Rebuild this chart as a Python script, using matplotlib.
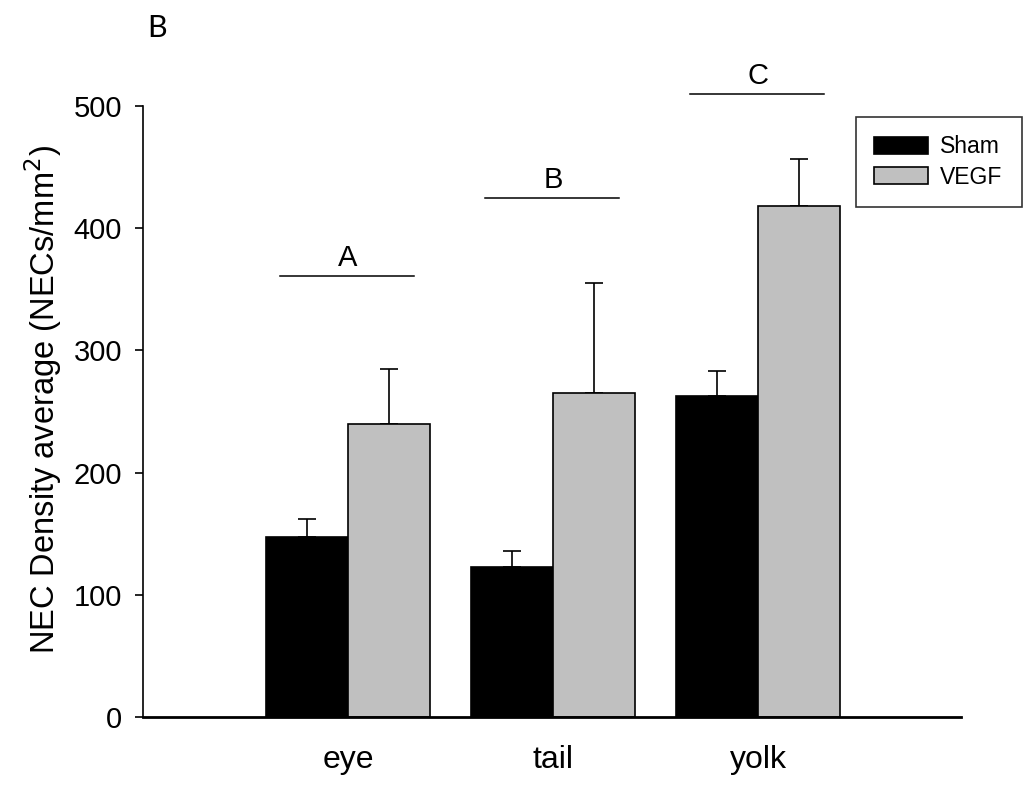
import numpy as np
import matplotlib
matplotlib.use('Agg')
import matplotlib.pyplot as plt

plt.rcParams['font.family'] = ['Liberation Sans', 'DejaVu Sans']

# data
sites = ['eye', 'tail', 'yolk']
sham_mean = [147, 123, 263]
sham_top = [162, 136, 283]
vegf_mean = [239.5, 265, 418]
vegf_top = [285, 355, 457]
sig_labels = ['A', 'B', 'C']
sig_levels = [361, 425, 510]

sham_err = np.array(sham_top) - np.array(sham_mean)
vegf_err = np.array(vegf_top) - np.array(vegf_mean)

fig = plt.figure(figsize=(10.29, 7.93), dpi=100)
ax = fig.add_axes([143/1029, 1 - 717/793, 818/1029, 611/793])

x = np.arange(1, len(sites) + 1)
w = 0.4

ax.bar(x - w/2, sham_mean, w, color='black', edgecolor='black', linewidth=1.2,
       label='Sham', zorder=2)
ax.bar(x + w/2, vegf_mean, w, color='#c0c0c0', edgecolor='black', linewidth=1.2,
       label='VEGF', zorder=2)

ekw = dict(fmt='none', ecolor='black', elinewidth=1.2, capsize=6.5, capthick=1.2, zorder=1)
ax.errorbar(x - w/2, sham_mean, yerr=[np.zeros(3), sham_err], **ekw)
ax.errorbar(x + w/2, vegf_mean, yerr=[np.zeros(3), vegf_err], **ekw)

# significance bars above each group
for xi, lab, lev in zip(x, sig_labels, sig_levels):
    ax.plot([xi - 0.33, xi + 0.32], [lev, lev], color='black', lw=1.1, clip_on=False)
    ax.text(xi, lev + 3, lab, ha='center', va='bottom', fontsize=21, clip_on=False)

ax.set_xlim(0, 3.99)
ax.set_ylim(0, 500)
ax.set_yticks(np.arange(0, 501, 100))
ax.set_xticks(x)
ax.set_xticklabels(sites)
ax.tick_params(axis='x', length=0, pad=20, labelsize=23)
ax.tick_params(axis='y', length=6, width=1.2, pad=9, labelsize=21)

for s in ['top', 'right']:
    ax.spines[s].set_visible(False)
ax.spines['left'].set_linewidth(1.2)
ax.spines['bottom'].set_linewidth(2)

ax.set_ylabel('NEC Density average (NECs/mm$^2$)', fontsize=23.5)
ax.yaxis.set_label_coords(-0.096, 0.52)

leg = ax.legend(loc='upper left', mode='expand',
                bbox_to_anchor=(856/1029, 1 - 210/793, 166/1029, 93/793),
                bbox_transform=fig.transFigure, fontsize=16.5, frameon=True,
                fancybox=False, edgecolor='black', handlelength=2.35,
                handleheight=0.8, handletextpad=0.5, labelspacing=0.32,
                borderpad=0.8, borderaxespad=0)
leg.get_frame().set_linewidth(1.2)

fig.text(147/1029, 1 - 37/793, 'B', fontsize=22, family=['Lato', 'DejaVu Sans'])

fig.savefig('out.png', dpi=100)
